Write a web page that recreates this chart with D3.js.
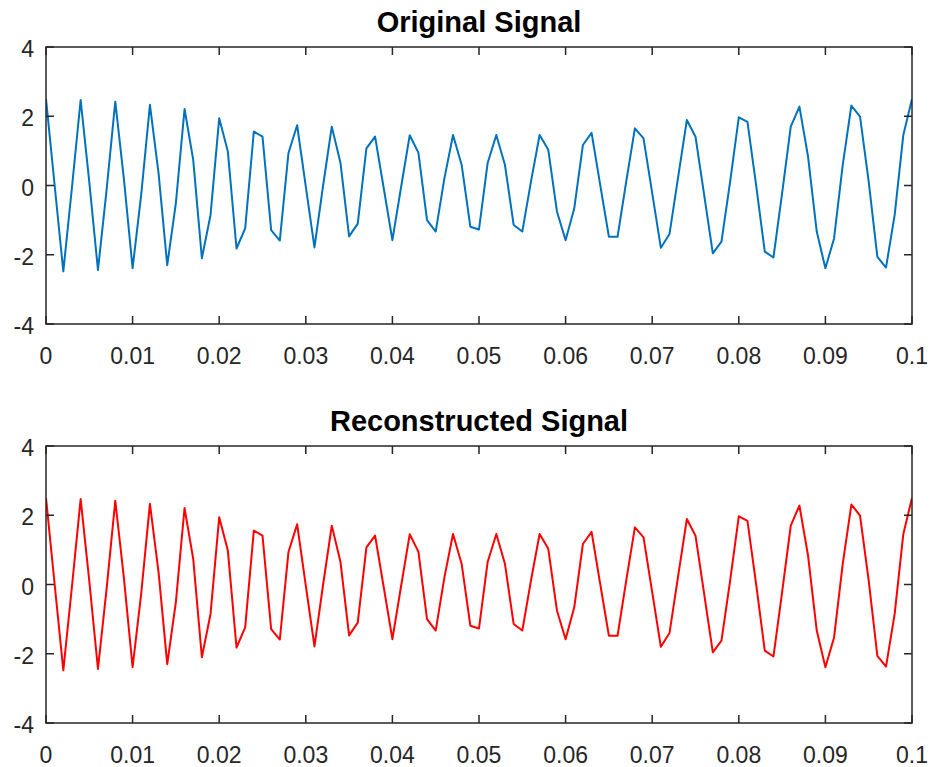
<!DOCTYPE html>
<html>
<head>
<meta charset="utf-8">
<script src="https://cdn.jsdelivr.net/npm/d3@7"></script>
<style>
  body { margin: 0; background: #fff; }
  text { font-family: Arial, "Liberation Sans", Helvetica, sans-serif; fill: #262626; }
  .title { font-weight: bold; font-size: 29px; fill: #000; }
  .tick-label { font-size: 23px; }
</style>
</head>
<body>
<script>
// sample times: 0 to 0.1 s, every 1 ms
var time = d3.range(101).map(function(i) { return i / 1000; });

// values
var original = [
    2.50, 0.00, -2.48, -0.05, 2.47, 0.10, -2.44, -0.12, 2.42, 0.18,
    -2.39, -0.25, 2.33, 0.35, -2.30, -0.50, 2.21, 0.74, -2.10, -0.85,
    1.94, 0.98, -1.82, -1.24, 1.56, 1.41, -1.29, -1.59, 0.94, 1.74,
    -0.03, -1.79, 0.00, 1.70, 0.66, -1.47, -1.10, 1.07, 1.41, -0.08,
    -1.58, -0.05, 1.45, 0.95, -1.00, -1.33, 0.20, 1.46, 0.59, -1.19,
    -1.27, 0.65, 1.46, 0.59, -1.14, -1.33, 0.11, 1.46, 1.03, -0.75,
    -1.58, -0.66, 1.17, 1.52, 0.01, -1.48, -1.48, 0.11, 1.65, 1.36,
    -0.22, -1.80, -1.40, 0.25, 1.89, 1.41, -0.27, -1.96, -1.62, 0.11,
    1.97, 1.84, 0.01, -1.91, -2.08, -0.23, 1.70, 2.28, 0.83, -1.33,
    -2.39, -1.53, 0.59, 2.31, 1.99, 0.11, -2.06, -2.37, -0.85, 1.46,
    2.50
];

// the reconstruction is indistinguishable from the original in the picture
var reconstructed = original.slice();

var xTicks = d3.range(0, 11).map(function(i) { return i / 100; });
var yTicks = [-4, -2, 0, 2, 4];
var xTickLabels = ['0', '0.01', '0.02', '0.03', '0.04', '0.05', '0.06', '0.07', '0.08', '0.09', '0.1'];

var panels = [
    { title: 'Original Signal', values: original, color: '#0072BD', top: 47 },
    { title: 'Reconstructed Signal', values: reconstructed, color: '#FF0000', top: 446 }
];

var width = 930,
    height = 767,
    left = 46,
    right = 912,
    plotHeight = 277,
    tickLen = 8,
    axisColor = '#262626';

var svg = d3.select('body')
    .append('svg')
    .attr('width', width)
    .attr('height', height);

var x = d3.scaleLinear()
    .domain([0, 0.1])
    .range([left, right]);

panels.forEach(function(p) {
    var y = d3.scaleLinear()
        .domain([-4, 4])
        .range([p.top + plotHeight, p.top]);

    var g = svg.append('g');

    // data line, clipped to axes
    var clipId = 'clip-' + p.top;
    g.append('clipPath')
        .attr('id', clipId)
        .append('rect')
        .attr('x', left)
        .attr('y', p.top)
        .attr('width', right - left)
        .attr('height', plotHeight);

    var line = d3.line()
        .x(function(d, i) { return x(time[i]); })
        .y(function(d) { return y(d); });

    g.append('path')
        .datum(p.values)
        .attr('clip-path', 'url(#' + clipId + ')')
        .attr('fill', 'none')
        .attr('stroke', p.color)
        .attr('stroke-width', 2)
        .attr('stroke-linejoin', 'round')
        .attr('d', line);

    // box
    g.append('rect')
        .attr('x', left)
        .attr('y', p.top)
        .attr('width', right - left)
        .attr('height', plotHeight)
        .attr('fill', 'none')
        .attr('stroke', axisColor)
        .attr('stroke-width', 1.5);

    // inward ticks on all four sides
    var bottom = p.top + plotHeight;
    g.selectAll('.xt')
        .data(xTicks).enter()
        .append('path')
        .attr('stroke', axisColor)
        .attr('stroke-width', 1.5)
        .attr('d', function(d) {
            var px = x(d);
            return 'M' + px + ',' + bottom + 'V' + (bottom - tickLen) +
                'M' + px + ',' + p.top + 'V' + (p.top + tickLen);
        });

    g.selectAll('.yt')
        .data(yTicks).enter()
        .append('path')
        .attr('stroke', axisColor)
        .attr('stroke-width', 1.5)
        .attr('d', function(d) {
            var py = y(d);
            return 'M' + left + ',' + py + 'H' + (left + tickLen) +
                'M' + right + ',' + py + 'H' + (right - tickLen);
        });

    g.selectAll('.xl')
        .data(xTicks).enter()
        .append('text')
        .attr('class', 'tick-label')
        .attr('x', function(d) { return x(d); })
        .attr('y', bottom + 40)
        .attr('text-anchor', 'middle')
        .text(function(d, i) { return xTickLabels[i]; });

    g.selectAll('.yl')
        .data(yTicks).enter()
        .append('text')
        .attr('class', 'tick-label')
        .attr('x', left - 12)
        .attr('y', function(d) { return y(d) + 10; })
        .attr('text-anchor', 'end')
        .text(function(d) { return d; });

    g.append('text')
        .attr('class', 'title')
        .attr('x', (left + right) / 2)
        .attr('y', p.top - 15)
        .attr('text-anchor', 'middle')
        .text(p.title);
});
</script>
</body>
</html>
